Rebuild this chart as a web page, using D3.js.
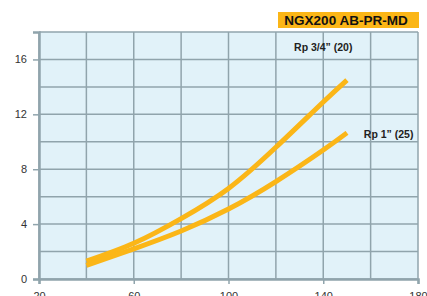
<!DOCTYPE html>
<html>
<head>
<meta charset="utf-8">
<script src="https://cdn.jsdelivr.net/npm/d3@7"></script>
<style>
  body { margin: 0; background: #fff; }
  svg { display: block; font-family: "Liberation Sans", Arial, sans-serif; }
</style>
</head>
<body>
<div class="chart-area"></div>
<script>
// flow values
var flowX = [40, 60, 80, 100, 120, 140, 150];
var rp34 = [1.3, 2.6, 4.4, 6.6, 9.6, 12.9, 14.5];
var rp1 = [1.0, 2.2, 3.5, 5.1, 7.1, 9.4, 10.65];
var seriesNames = ["Rp 3/4\u201d (20)", "Rp 1\u201d (25)"];
var xTicks = [20, 60, 100, 140, 180];
var yTicks = [0, 4, 8, 12, 16];
var title = "NGX200 AB-PR-MD";

var W = 427, H = 296;
var margin = {top: 32, right: 9, bottom: 17, left: 39};
var width = W - margin.left - margin.right,
    height = H - margin.top - margin.bottom;

var svg = d3.select(".chart-area").append("svg")
  .attr("width", W).attr("height", H);

var g = svg.append("g")
  .attr("transform", "translate(" + margin.left + "," + margin.top + ")");

var x = d3.scaleLinear().domain([20, 180]).range([0, width]);
var y = d3.scaleLinear().domain([0, 18]).range([height, 0]);

var grid = "#90a4ac";

g.append("rect")
  .attr("width", width).attr("height", height)
  .attr("fill", "#e1f2f9");

// grid lines
g.append("g").selectAll("line")
  .data(d3.range(20, 181, 20))
  .join("line")
  .attr("x1", d => x(d)).attr("x2", d => x(d))
  .attr("y1", 0).attr("y2", height)
  .attr("stroke", grid).attr("stroke-width", 1.5);

g.append("g").selectAll("line")
  .data(d3.range(0, 19, 2))
  .join("line")
  .attr("x1", 0).attr("x2", width)
  .attr("y1", d => y(d)).attr("y2", d => y(d))
  .attr("stroke", grid).attr("stroke-width", 1.5);

// axes
var xAxis = g.append("g")
  .attr("transform", "translate(0," + height + ")")
  .call(d3.axisBottom(x).tickValues(xTicks).tickSize(5).tickPadding(8));
var yAxis = g.append("g")
  .call(d3.axisLeft(y).tickValues(yTicks).tickSize(6).tickPadding(6));

[xAxis, yAxis].forEach(function(a){
  a.select(".domain").attr("stroke", grid).attr("stroke-width", 2.5);
  a.selectAll(".tick line").attr("stroke", grid).attr("stroke-width", 1.5);
  a.selectAll("text").attr("fill", "#333").style("font-size", "11px")
    .style("font-family", "\"Liberation Sans\", Arial, sans-serif");
});

var line = d3.line()
  .x(function(d, i){ return x(flowX[i]); })
  .y(function(d){ return y(d); })
  .curve(d3.curveNatural);

[rp34, rp1].forEach(function(s){
  g.append("path")
    .datum(s)
    .attr("d", line)
    .attr("fill", "none")
    .attr("stroke", "#fbb617")
    .attr("stroke-width", 5);
});

// series labels
g.append("text")
  .attr("x", x(140)).attr("y", y(16.6))
  .attr("text-anchor", "middle")
  .style("font-size", "10.5px").style("font-weight", "bold")
  .attr("fill", "#222")
  .text(seriesNames[0]);

g.append("text")
  .attr("x", x(167.6)).attr("y", y(10.3))
  .attr("text-anchor", "middle")
  .style("font-size", "10.5px").style("font-weight", "bold")
  .attr("fill", "#222")
  .text(seriesNames[1]);

// title badge
svg.append("rect")
  .attr("x", 278).attr("y", 12).attr("width", 141).attr("height", 16)
  .attr("fill", "#fbb617");
svg.append("text")
  .attr("x", 346).attr("y", 25)
  .attr("text-anchor", "middle")
  .style("font-size", "13.5px").style("font-weight", "bold")
  .attr("fill", "#111")
  .text(title);
</script>
</body>
</html>
